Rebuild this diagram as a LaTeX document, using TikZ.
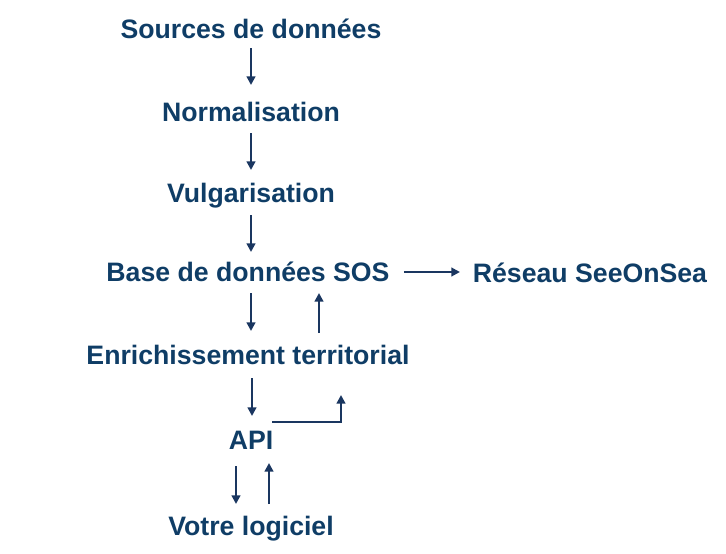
\documentclass[tikz,border=0pt]{standalone}
\usepackage{fontspec}
\setmainfont{Liberation Sans}
\usetikzlibrary{arrows.meta,calc}
\definecolor{txtcol}{HTML}{0F3D66}
\definecolor{arrcol}{HTML}{1A3660}
\begin{document}
\begin{tikzpicture}[x=0.75pt,y=-0.75pt,
  lbl/.style={font=\fontsize{20}{24}\selectfont\bfseries, text=txtcol, inner sep=0pt, text height=14.3pt, text depth=0pt, anchor=center},
  arr/.style={draw=arrcol, line width=1.8pt, -{Triangle[length=6.5pt,width=6.5pt]}}]
\useasboundingbox (0,0) rectangle (726,554);
\node[lbl] (src) at (251,29) {Sources de données};
\node[lbl] (norm) at (251,112) {Normalisation};
\node[lbl] (vulg) at (251,193) {Vulgarisation};
\node[lbl] (base) at (248,272) {Base de données SOS};
\node[lbl] (res) at (590,273) {Réseau SeeOnSea};
\node[lbl] (enr) at (248,355) {Enrichissement territorial};
\node[lbl] (api) at (251,440) {API};
\node[lbl] (vot) at (251,526) {Votre logiciel};
\draw[arr] ($(src)+(0,19)$) -- ($(norm)+(0,-27)$);
\draw[arr] ($(norm)+(0,21)$) -- ($(vulg)+(0,-23)$);
\draw[arr] ($(vulg)+(0,22)$) -- ($(base)+(3,-20)$);
\draw[arr, shorten <=10.5pt, shorten >=9.5pt] (base.east) -- (res.west |- base.east);
\draw[arr] ($(base)+(3,21)$) -- ($(enr)+(3,-24)$);
\draw[arr] ($(enr)+(71,-22)$) -- ($(base)+(71,21)$);
\draw[arr] ($(enr)+(4,23)$) -- ($(api)+(1,-24)$);
\draw[arr] ($(api)+(21,-18)$) -| ($(enr)+(93,40)$);
\draw[arr] ($(api)+(-15,26)$) -- ($(vot)+(-15,-22)$);
\draw[arr] ($(vot)+(18,-22)$) -- ($(api)+(18,23)$);
\end{tikzpicture}
\end{document}
